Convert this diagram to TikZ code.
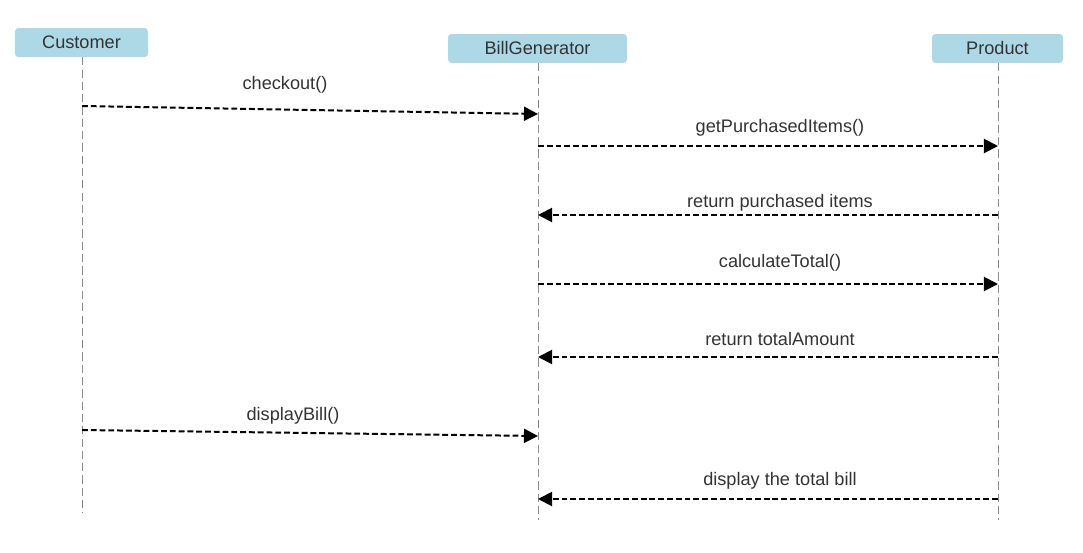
\documentclass[tikz,border=0pt]{standalone}
\usepackage{fontspec}
\setmainfont{Liberation Sans}
\usetikzlibrary{arrows.meta}
\definecolor{headblue}{HTML}{ADD8E6}
\definecolor{textgray}{HTML}{333333}
\begin{document}
\begin{tikzpicture}%
  [x=0.03cm,y=-0.03cm,font=\fontsize{15.5}{18}\selectfont,text=textgray]
  \tikzstyle{head node}=[rectangle,fill=headblue,rounded corners=3pt,inner sep=0,minimum height=0.87cm]
  \tikzstyle{life line}=[draw=gray!90,line width=0.7pt,dash pattern=on 7pt off 3.5pt]
  \tikzstyle{msg}=[draw=black,line width=1.7pt,dash pattern=on 5pt off 2.5pt,
    -{Triangle[length=12pt,width=12pt]}]
  \useasboundingbox (0,0) rectangle (1083,552);
  % participants
  \node(cust)[head node,minimum width=3.99cm] at (81.5,42.5){Customer};
  \node(bill)[head node,minimum width=5.37cm] at (537.5,48.5){BillGenerator};
  \node(prod)[head node,minimum width=3.93cm] at (997.5,48.5){Product};
  \coordinate(custend) at (82,513);
  \coordinate(billend) at (538,520);
  \coordinate(prodend) at (998,520);
  \path[life line] (cust.south-|custend) -- (custend);
  \path[life line] (bill.south-|billend) -- (billend);
  \path[life line] (prod.south-|prodend) -- (prodend);
  % message ends
  \coordinate(m1a) at (82,106);  \coordinate(m1b) at (538,114);
  \coordinate(m2a) at (538,146); \coordinate(m2b) at (998,146);
  \coordinate(m3a) at (998,215); \coordinate(m3b) at (538,215);
  \coordinate(m4a) at (538,284); \coordinate(m4b) at (998,284);
  \coordinate(m5a) at (998,357); \coordinate(m5b) at (538,357);
  \coordinate(m6a) at (82,430);  \coordinate(m6b) at (538,436);
  \coordinate(m7a) at (998,499); \coordinate(m7b) at (538,499);
  % messages
  \path[msg] (m1a) -- (m1b);
  \node[anchor=base] at (285,89){checkout()};
  \path[msg] (m2a) -- (m2b);
  \node[anchor=base] at (780,132){getPurchasedItems()};
  \path[msg] (m3a) -- (m3b);
  \node[anchor=base] at (780,207){return purchased items};
  \path[msg] (m4a) -- (m4b);
  \node[anchor=base] at (780,267){calculateTotal()};
  \path[msg] (m5a) -- (m5b);
  \node[anchor=base] at (780,345){return totalAmount};
  \path[msg] (m6a) -- (m6b);
  \node[anchor=base] at (293,420){displayBill()};
  \path[msg] (m7a) -- (m7b);
  \node[anchor=base] at (780,485){display the total bill};
\end{tikzpicture}
\end{document}
